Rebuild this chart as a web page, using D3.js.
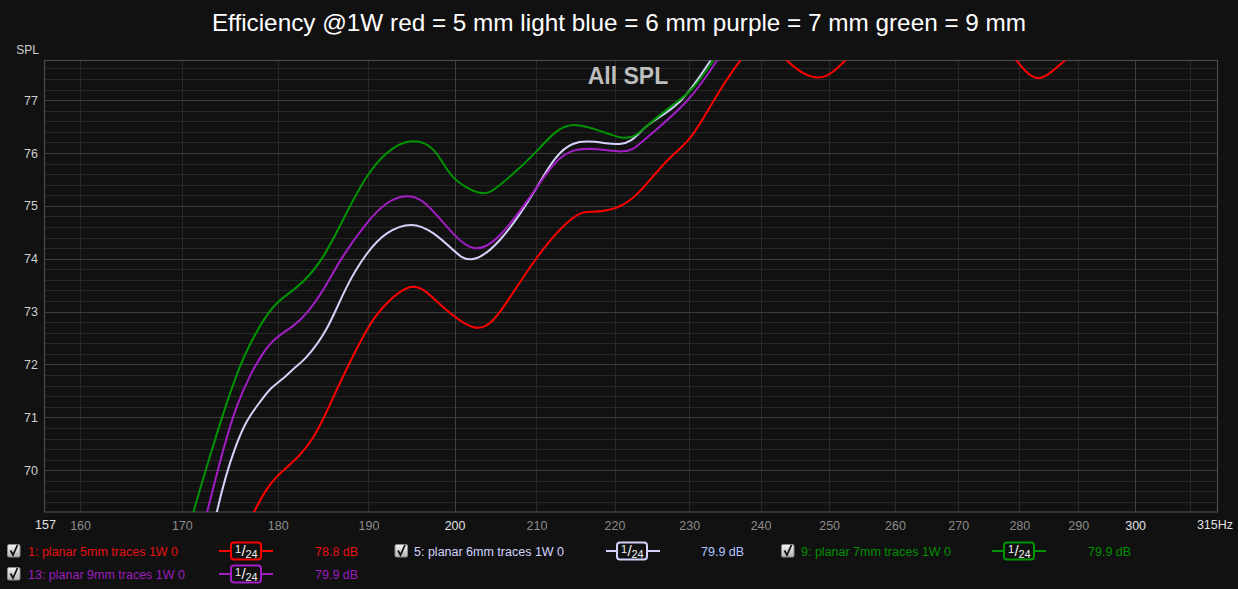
<!DOCTYPE html>
<html>
<head>
<meta charset="utf-8">
<script src="https://cdn.jsdelivr.net/npm/d3@7/dist/d3.min.js"></script>
<style>
  html, body { margin: 0; padding: 0; background: #111111; }
  svg { display: block; font-family: "Liberation Sans", Arial, sans-serif; }
</style>
</head>
<body>
<svg id="chart" width="1238" height="589"></svg>
<script>
// ---------------- DATA ----------------
const titleText = "Efficiency @1W red = 5 mm light blue = 6 mm purple = 7 mm green = 9 mm";
const yTicks = [70, 71, 72, 73, 74, 75, 76, 77];
const xTicks = [160, 170, 180, 190, 200, 210, 220, 230, 240, 250, 260, 270, 280, 290, 300];
const xGridExtra = [310];
const xEdgeLabels = ["157", "315Hz"];

// 1: planar 5mm (red)
const hz5mm = [176.4, 177.5, 178.72, 179.86, 181.08, 182.38, 183.8, 185.22, 186.96, 189.8, 192.1, 195.1, 198.2, 202.2, 205.5, 210.0, 214.6, 217.2, 220.3, 223.3, 226.9, 230.1, 233.3, 237.0, 240.5, 243.8, 248.4, 252.4, 257.0, 266.0, 275.0, 279.5, 283.2, 287.7, 293.0, 300.0, 315.0];
const spl5mm = [68.82, 69.22, 69.61, 69.87, 70.07, 70.29, 70.61, 71.07, 71.71, 72.65, 73.16, 73.47, 73.15, 72.71, 73.00, 74.01, 74.77, 74.89, 74.97, 75.27, 75.84, 76.28, 76.97, 77.73, 78.1, 77.75, 77.43, 77.75, 78.2, 78.5, 78.2, 77.75, 77.42, 77.75, 78.2, 78.6, 78.8];

// 5: planar 6mm (light blue)
const hz6mm = [172.6, 173.6, 174.51, 175.45, 176.71, 178.1, 179.3, 180.6, 181.84, 183.1, 185.3, 187.5, 189.8, 192.1, 194.9, 197.5, 199.8, 202.0, 205.5, 210.0, 214.6, 220.7, 224.2, 228.7, 232.9, 236.5];
const spl6mm = [68.36, 69.22, 69.87, 70.40, 70.92, 71.29, 71.55, 71.74, 71.94, 72.14, 72.67, 73.45, 74.09, 74.48, 74.64, 74.48, 74.17, 73.99, 74.36, 75.34, 76.17, 76.17, 76.50, 76.97, 77.74, 78.4];

// 9: planar 7mm (green)
const hz7mm = [170.0, 171.2, 172.85, 174.58, 175.97, 177.02, 178.43, 179.86, 181.3, 182.74, 184.93, 187.52, 189.8, 192.1, 194.7, 197.5, 199.8, 203.0, 205.5, 210.0, 214.6, 220.7, 224.2, 227.8, 230.5, 233.3, 236.5];
const spl7mm = [68.38, 69.22, 70.25, 71.25, 71.95, 72.37, 72.82, 73.15, 73.36, 73.57, 74.04, 74.86, 75.55, 76.00, 76.22, 76.06, 75.55, 75.25, 75.40, 76.03, 76.53, 76.30, 76.50, 76.91, 77.23, 77.74, 78.4];

// 13: planar 9mm (purple)
const hz9mm = [171.4, 172.6, 174.23, 175.63, 177.02, 178.43, 179.86, 181.65, 183.11, 184.93, 187.15, 189.8, 192.1, 194.4, 196.7, 199.8, 202.4, 205.5, 210.0, 214.6, 220.7, 224.2, 229.6, 233.8, 237.0];
const spl9mm = [68.32, 69.22, 70.37, 71.19, 71.77, 72.21, 72.50, 72.73, 72.97, 73.41, 74.05, 74.67, 75.05, 75.18, 75.02, 74.48, 74.20, 74.45, 75.34, 76.04, 76.03, 76.28, 76.97, 77.74, 78.4];

const seriesNames = ["1: planar 5mm traces 1W 0", "5: planar 6mm traces 1W 0", "9: planar 7mm traces 1W 0", "13: planar 9mm traces 1W 0"];
const seriesValues = ["78.8 dB", "79.9 dB", "79.9 dB", "79.9 dB"];
const seriesSmoothing = ["1/24", "1/24", "1/24", "1/24"];

// ---------------- STYLE / LAYOUT ----------------
const lineColors = ["#ff0000", "#d2d2fa", "#009400", "#a21ec4"];
const nameColors = ["#e81010", "#d4d4ff", "#009000", "#9c1cbc"];
const valueColors = ["#e81010", "#b0c4ff", "#009000", "#9c1cbc"];

const W = 1238, H = 589;
const plot = { left: 44, right: 1217, top: 60.5, bottom: 512 };

const svg = d3.select("#chart");
svg.append("rect").attr("width", W).attr("height", H).attr("fill", "#111111");

const x = d3.scaleLog().domain([156.6, 315]).range([plot.left, plot.right]);
const y = d3.scaleLinear().domain([69.21, 77.75]).range([plot.bottom, plot.top]);

// grid
const g = svg.append("g");
const minorY = d3.range(69.4, 77.75, 0.2).filter(v => Math.abs(v - Math.round(v)) > 0.05);
g.selectAll(".gy-minor").data(minorY).enter().append("line")
  .attr("x1", plot.left).attr("x2", plot.right)
  .attr("y1", d => Math.round(y(d)) + 0.5).attr("y2", d => Math.round(y(d)) + 0.5)
  .attr("stroke", "#262626").attr("stroke-width", 1);
g.selectAll(".gx").data(xTicks.concat(xGridExtra)).enter().append("line")
  .attr("y1", plot.top).attr("y2", plot.bottom)
  .attr("x1", d => Math.round(x(d)) + 0.5).attr("x2", d => Math.round(x(d)) + 0.5)
  .attr("stroke", d => (d === 200 || d === 300) ? "#3e3e3e" : "#282828").attr("stroke-width", 1);
g.selectAll(".gy").data(yTicks).enter().append("line")
  .attr("x1", plot.left).attr("x2", plot.right)
  .attr("y1", d => Math.round(y(d)) + 0.5).attr("y2", d => Math.round(y(d)) + 0.5)
  .attr("stroke", "#3c3c3c").attr("stroke-width", 1);

// frame
svg.append("rect")
  .attr("x", plot.left + 0.5).attr("y", plot.top)
  .attr("width", plot.right - plot.left).attr("height", plot.bottom - plot.top)
  .attr("fill", "none").attr("stroke", "#4a4a4a").attr("stroke-width", 1.2);

// y axis labels
const yAxis = d3.axisLeft(y).tickValues(yTicks).tickSize(0).tickPadding(6).tickFormat(d3.format("d"));
const ya = svg.append("g").attr("transform", `translate(${plot.left},0)`).call(yAxis);
ya.select(".domain").remove();
ya.selectAll("text").attr("fill", "#cfcfcf").attr("font-size", 12.5)
  .attr("font-family", "Liberation Sans, Arial, sans-serif");

svg.append("text").attr("x", 39).attr("y", 54).attr("text-anchor", "end")
  .attr("fill", "#cfcfcf").attr("font-size", 12).text("SPL");

// x axis labels
const xAxis = d3.axisBottom(x).tickValues(xTicks).tickSize(0).tickPadding(9).tickFormat(d3.format("d"));
const xa = svg.append("g").attr("transform", `translate(0,${plot.bottom})`).call(xAxis);
xa.select(".domain").remove();
xa.selectAll("text").attr("font-size", 12.5)
  .attr("font-family", "Liberation Sans, Arial, sans-serif")
  .attr("fill", d => (d === 200 || d === 300) ? "#e0e0e0" : "#8c8c8c");
svg.append("text").attr("x", x(x.domain()[0]) + 1.5).attr("y", 529).attr("text-anchor", "middle")
  .attr("fill", "#e0e0e0").attr("font-size", 12.5).text(xEdgeLabels[0]);
svg.append("text").attr("x", x(x.domain()[1]) - 2).attr("y", 529).attr("text-anchor", "middle")
  .attr("fill", "#e0e0e0").attr("font-size", 12.5).text(xEdgeLabels[1]);

// clip
svg.append("defs").append("clipPath").attr("id", "clip")
  .append("rect").attr("x", plot.left).attr("y", plot.top)
  .attr("width", plot.right - plot.left).attr("height", plot.bottom - plot.top);

// "All SPL" label
svg.append("text").attr("x", 628).attr("y", 84).attr("text-anchor", "middle")
  .attr("fill", "#bdbdbd").attr("font-size", 23).attr("font-weight", "bold").text("All SPL");

// curves
const seriesHz = [hz5mm, hz6mm, hz7mm, hz9mm];
const seriesSpl = [spl5mm, spl6mm, spl7mm, spl9mm];
const line = d3.line().x(d => x(d[0])).y(d => y(d[1])).curve(d3.curveNatural);
const curves = svg.append("g").attr("clip-path", "url(#clip)");
seriesHz.forEach((hz, i) => {
  const pts = hz.map((h, k) => [h, seriesSpl[i][k]]);
  curves.append("path").datum(pts).attr("d", line)
    .attr("fill", "none").attr("stroke", lineColors[i]).attr("stroke-width", 2)
    .attr("stroke-linejoin", "round");
});

// title
svg.append("text").attr("x", 619).attr("y", 31).attr("text-anchor", "middle")
  .attr("fill", "#ffffff").attr("font-size", 24.3).text(titleText);

// legend
const defs = svg.select("defs");
const grad = defs.append("linearGradient").attr("id", "cb").attr("x1", 0).attr("y1", 0).attr("x2", 0).attr("y2", 1);
grad.append("stop").attr("offset", "0%").attr("stop-color", "#f4f4f4");
grad.append("stop").attr("offset", "100%").attr("stop-color", "#b4b4b4");

const legendPos = [
  { cb: 7.5, text: 28, line0: 219, line1: 273, box: 231, val: 315, row: 551 },
  { cb: 395, text: 414, line0: 606, line1: 660, box: 617, val: 701, row: 551 },
  { cb: 781.5, text: 801, line0: 992, line1: 1046, box: 1004, val: 1088, row: 551 },
  { cb: 7.5, text: 28, line0: 219, line1: 273, box: 231, val: 315, row: 574 }
];

seriesNames.forEach((name, i) => {
  const p = legendPos[i];
  const lg = svg.append("g");
  lg.append("rect").attr("x", p.cb).attr("y", p.row - 6.5).attr("width", 12.5).attr("height", 12.5)
    .attr("rx", 1.5).attr("fill", "url(#cb)").attr("stroke", "#8a8a8a").attr("stroke-width", 1);
  lg.append("path")
    .attr("d", `M${p.cb + 3} ${p.row - 0.5} L${p.cb + 5.5} ${p.row + 4} L${p.cb + 10} ${p.row - 6}`)
    .attr("fill", "none").attr("stroke", "#111").attr("stroke-width", 1.8);
  lg.append("text").attr("x", p.text).attr("y", p.row + 4.5)
    .attr("fill", nameColors[i]).attr("font-size", 12.5).text(name);
  lg.append("line").attr("x1", p.line0).attr("x2", p.line1).attr("y1", p.row).attr("y2", p.row)
    .attr("stroke", lineColors[i]).attr("stroke-width", 2);
  lg.append("rect").attr("x", p.box).attr("y", p.row - 8.5).attr("width", 30).attr("height", 17)
    .attr("rx", 3).attr("fill", "#111").attr("stroke", lineColors[i]).attr("stroke-width", 2);
  const parts = seriesSmoothing[i].split("/");
  lg.append("text").attr("x", p.box + 7).attr("y", p.row + 2).attr("fill", "#f0f0f0")
    .attr("font-size", 11).attr("text-anchor", "middle").text(parts[0]);
  lg.append("text").attr("x", p.box + 12.5).attr("y", p.row + 5).attr("fill", "#f0f0f0")
    .attr("font-size", 15).attr("text-anchor", "middle").text("/");
  lg.append("text").attr("x", p.box + 20.5).attr("y", p.row + 7).attr("fill", "#f0f0f0")
    .attr("font-size", 11).attr("text-anchor", "middle").text(parts[1]);
  lg.append("text").attr("x", p.val).attr("y", p.row + 4.5)
    .attr("fill", valueColors[i]).attr("font-size", 12.5).text(seriesValues[i]);
});
</script>
</body>
</html>
